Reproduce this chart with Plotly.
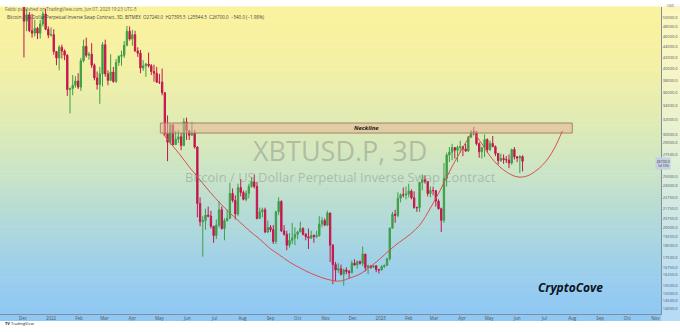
import numpy as np
import pandas as pd
import plotly.graph_objects as go

# ---------------- data ----------------
first_bar = "2021-12-02"
bar_step = "3D"

opens = [57200, 49200, 50600, 47200, 46700, 47700, 46700, 48600, 50800, 47500,
         46300, 46400, 43100, 41900, 43900, 43200, 42400, 36500, 36700, 37200,
         37900, 36900, 41400, 44100, 42400, 42600, 40600, 38400, 37300, 39100,
         44400, 39100, 38000, 39400, 37800, 41100, 42200, 42400, 44300, 47100,
         45500, 46400, 43200, 42800, 40100, 40500, 40800, 40500, 39500, 39200,
         37700, 37700, 36000, 30100, 29000, 31300, 28700, 29400, 29700, 28600,
         31700, 30500, 29900, 30200, 28400, 22200, 20500, 20600, 21100, 21000,
         20100, 19300, 20200, 21600, 19900, 20600, 20800, 23200, 22500, 21200,
         23800, 23300, 22600, 23200, 23900, 24400, 23900, 20800, 21400, 21600,
         19600, 20000, 19800, 18800, 21400, 22400, 19700, 19400, 18500, 18900,
         19100, 19400, 19600, 19900, 19400, 19200, 19100, 19300, 19200, 19300,
         20300, 20600, 20200, 21300, 18500, 17000, 16600, 16700, 16300, 16600,
         16500, 16400, 17100, 16970, 17220, 17090, 17800, 16780, 16900, 16800,
         16910, 16630, 16610, 16850, 16940, 17440, 19930, 21180, 21070, 22710,
         23060, 23030, 23130, 23430, 22760, 21800, 21790, 24330, 24630, 24440,
         23180, 23490, 23480, 22430, 21700, 20630, 24750, 27420, 27770, 28330,
         28000, 28350, 28450, 28170, 27920, 29650, 30400, 30320, 28820, 27820,
         28310, 29340, 28080, 28850, 28450, 27620, 26780, 27030, 26890, 26850,
         26480, 28090, 27220, 27070, 27240]

highs = [57300, 51900, 51200, 50800, 49500, 48000, 49500, 51400, 52000, 48100,
         47900, 47500, 43200, 44300, 44400, 43500, 42600, 36800, 38900, 38700,
         39200, 41900, 45400, 45800, 43000, 44700, 40900, 39500, 40300, 44900,
         45400, 39700, 42600, 40300, 41700, 42400, 43300, 45100, 48200, 48100,
         47400, 47200, 43900, 43400, 41500, 41000, 42900, 40800, 40700, 40300,
         39100, 40000, 36100, 32600, 31400, 31300, 30500, 30600, 30200, 32200,
         32300, 30600, 31700, 30600, 28500, 22800, 21000, 21700, 21900, 21500,
         20100, 20700, 22400, 21900, 20800, 21600, 24300, 23700, 23000, 24200,
         24700, 23500, 23500, 24200, 24900, 25200, 24400, 21800, 21800, 21800,
         20600, 20200, 20200, 21500, 22800, 22500, 20200, 19700, 19500, 20400,
         20000, 19700, 20500, 20000, 19500, 19900, 19700, 19400, 19700, 21000,
         20900, 20800, 21500, 21300, 18600, 17200, 17100, 17000, 16700, 16800,
         16600, 17300, 17400, 17300, 17300, 18400, 17800, 17000, 16950, 16950,
         16950, 16650, 16950, 17000, 17500, 20000, 21400, 21600, 23300, 23200,
         23800, 23900, 24200, 23600, 23400, 21900, 24400, 25200, 25100, 24400,
         23900, 23900, 23500, 22600, 21800, 26500, 27700, 28400, 28800, 28400,
         28600, 29200, 28500, 28800, 29800, 30600, 31000, 30500, 29000, 28400,
         30000, 29500, 29200, 29800, 28600, 27600, 27600, 27500, 27300, 27500,
         28200, 28400, 27300, 27400, 27395.5]

lows = [42000, 47100, 46900, 45800, 46000, 45500, 45600, 48100, 47300, 45700,
        46000, 42500, 40600, 39700, 41800, 41500, 35500, 32900, 35600, 36800,
        36600, 36300, 41100, 42000, 41600, 40100, 38000, 36500, 34300, 37000,
        38600, 37200, 37900, 37600, 37600, 40500, 40500, 41900, 44100, 45200,
        44200, 43100, 42100, 39200, 39600, 38600, 40200, 38900, 37800, 37600,
        37400, 35600, 29800, 26700, 28700, 28600, 28700, 28900, 28000, 28500,
        29300, 29300, 29900, 28200, 20900, 20100, 17600, 19800, 20900, 19900,
        18700, 19000, 20000, 19800, 18900, 20500, 20800, 22300, 20700, 21000,
        22900, 22500, 22400, 22700, 23800, 23700, 20700, 20750, 20900, 19500,
        19500, 19600, 18600, 18600, 21100, 19600, 19300, 18100, 18300, 18600,
        18500, 19000, 19600, 19300, 18900, 18200, 19000, 18700, 19100, 19200,
        20000, 20100, 20100, 17200, 15600, 15800, 16400, 16200, 15500, 16300,
        16000, 16400, 16900, 16700, 17000, 16900, 16500, 16300, 16700, 16750,
        16450, 16350, 16550, 16750, 16900, 17300, 19900, 20400, 20900, 22300,
        22800, 22600, 22800, 22600, 21700, 21400, 21400, 23500, 24200, 22900,
        22800, 23000, 21900, 21600, 19600, 20400, 23900, 26600, 26800, 27000,
        26600, 27700, 27300, 27800, 27800, 29600, 29900, 28600, 27100, 27000,
        27200, 27700, 27900, 28400, 27300, 26300, 26600, 26400, 26500, 25900,
        26300, 26900, 26600, 25350, 25544.5]

closes = [49200, 50600, 47200, 46700, 47700, 46700, 48600, 50800, 47500, 46300,
          46400, 43100, 41900, 43900, 43200, 42400, 36500, 36700, 37200, 37900,
          36900, 41400, 44100, 42400, 42600, 40600, 38400, 37300, 39100, 44400,
          39100, 38000, 39400, 37800, 41100, 42200, 42400, 44300, 47100, 45500,
          46400, 43200, 42800, 40100, 40500, 40800, 40500, 39500, 39200, 37700,
          37700, 36000, 30100, 29000, 31300, 28700, 29400, 29700, 28600, 31700,
          30500, 29900, 30200, 28400, 22200, 20500, 20600, 21100, 21000, 20100,
          19300, 20200, 21600, 19900, 20600, 20800, 23200, 22500, 21200, 23800,
          23300, 22600, 23200, 23900, 24400, 23900, 20800, 21400, 21600, 19600,
          20000, 19800, 18800, 21400, 22400, 19700, 19400, 18500, 18900, 19100,
          19400, 19600, 19900, 19400, 19200, 19100, 19300, 19200, 19300, 20300,
          20600, 20200, 21300, 18500, 17000, 16600, 16700, 16300, 16600, 16500,
          16400, 17100, 16970, 17220, 17090, 17800, 16780, 16900, 16800, 16910,
          16630, 16610, 16850, 16940, 17440, 19930, 21180, 21070, 22710, 23060,
          23030, 23130, 23430, 22760, 21800, 21790, 24330, 24630, 24440, 23180,
          23490, 23480, 22430, 21700, 20630, 24750, 27420, 27770, 28330, 28000,
          28350, 28450, 28170, 27920, 29650, 30400, 30320, 28820, 27820, 28310,
          29340, 28080, 28850, 28450, 27620, 26780, 27030, 26890, 26850, 26480,
          28090, 27220, 27070, 27240, 26700]

big_curve_dates = ["2022-05-05", "2022-05-15", "2022-05-24", "2022-06-04", "2022-06-15",
                   "2022-06-26", "2022-07-07", "2022-07-18", "2022-07-29", "2022-08-09",
                   "2022-08-20", "2022-08-31", "2022-09-11", "2022-09-22", "2022-10-04",
                   "2022-10-15", "2022-10-26", "2022-11-06", "2022-11-17", "2022-11-28",
                   "2022-12-09", "2022-12-20", "2022-12-31", "2023-01-11", "2023-01-22",
                   "2023-02-03", "2023-02-14", "2023-02-25", "2023-03-08", "2023-03-19",
                   "2023-03-30", "2023-04-10"]
big_curve_prices = [30070, 28650, 27430, 25910, 24590, 23330, 22240, 21290, 20470, 19680,
                    19000, 18270, 17720, 17190, 16740, 16380, 16100, 15890, 15820, 16030,
                    16310, 16820, 17420, 18120, 18760, 19430, 20290, 21760, 23540, 25690,
                    27790, 29930]

small_curve_dates = ["2023-04-16", "2023-04-24", "2023-05-02", "2023-05-13", "2023-05-24",
                     "2023-06-02", "2023-06-12", "2023-06-23", "2023-07-04", "2023-07-13",
                     "2023-07-21"]
small_curve_prices = [29930, 28650, 27310, 26030, 25250, 24920, 25030, 25690, 26830, 28400, 30460]

neckline_dates = ["2022-05-02", "2023-08-01"]
neckline_prices = [30190, 31540]
neckline_label = "Neckline"

price_ticks = [50000, 48000, 46000, 44000, 42000, 40000, 38000, 36000, 34000, 32000,
               30000, 29000, 27500, 25000, 24000, 22750, 21750, 20750, 20000, 19250,
               18500, 17500, 16750, 16250, 15500, 15000, 14500, 14000]
month_ticks = ["2021-12-01", "2022-01-01", "2022-02-01", "2022-03-01", "2022-04-01",
               "2022-05-01", "2022-06-01", "2022-07-01", "2022-08-01", "2022-09-01",
               "2022-10-01", "2022-11-01", "2022-12-01", "2023-01-01", "2023-02-01",
               "2023-03-01", "2023-04-01", "2023-05-01", "2023-06-01", "2023-07-01",
               "2023-08-01", "2023-09-01", "2023-10-01", "2023-11-01"]
month_labels = ["Dec", "2022", "Feb", "Mar", "Apr", "May", "Jun", "Jul", "Aug", "Sep",
                "Oct", "Nov", "Dec", "2023", "Feb", "Mar", "Apr", "May", "Jun", "Jul",
                "Aug", "Sep", "Oct", "Nov"]
last_price = 26700.0

header_top = "Fabbi published on TradingView.com, Jun 07, 2023 19:23 UTC-5"
header_symbol = ("Bitcoin / US Dollar Perpetual Inverse Swap Contract, 3D, BITMEX  "
                 "O27240.0  H27395.5  L25544.5  C26700.0  −540.0 (−1.98%)")
wm_title = "XBTUSD.P, 3D"
wm_sub = "Bitcoin / US Dollar Perpetual Inverse Swap Contract"
author = "CryptoCove"

# ---------------- layout geometry ----------------
W, H = 680, 332
PLOT_TOP, PLOT_BOTTOM, PLOT_RIGHT = 7, 314, 661
plot_h = PLOT_BOTTOM - PLOT_TOP


def py(pix):
    return (PLOT_BOTTOM - pix) / plot_h


def px(pix):
    return pix / PLOT_RIGHT


UP = "#3f9e47"
DOWN = "#c3174b"
CURVE = "#d9504a"

dates = pd.date_range(first_bar, periods=len(closes), freq=bar_step)

fig = go.Figure()

# background gradient (yellow -> green -> blue)
stops = [(1.0, (251, 242, 156)), (0.80, (243, 240, 166)), (0.62, (223, 235, 180)),
         (0.48, (205, 229, 196)), (0.30, (178, 218, 218)), (0.14, (156, 207, 236)),
         (0.0, (143, 200, 243)), (-0.03, (143, 200, 243))]
shapes = []
n = 80
y_lo, y_hi = py(321), 1.0
for i in range(n):
    a = y_lo + (y_hi - y_lo) * i / n
    b = y_lo + (y_hi - y_lo) * (i + 1) / n
    m = (a + b) / 2
    for j in range(len(stops) - 1):
        (p1, c1), (p2, c2) = stops[j], stops[j + 1]
        if p2 <= m <= p1:
            t = (p1 - m) / (p1 - p2)
            col = tuple(int(round(c1[k] + (c2[k] - c1[k]) * t)) for k in range(3))
            break
    shapes.append(dict(type="rect", xref="paper", yref="paper", x0=0, x1=W / PLOT_RIGHT,
                       y0=a, y1=b + 0.002, fillcolor="rgb(%d,%d,%d)" % col,
                       line=dict(width=0), layer="below"))
# price scale strip (slightly paler)
shapes.append(dict(type="rect", xref="paper", yref="paper", x0=1.0, x1=W / PLOT_RIGHT,
                   y0=py(321), y1=1.0, fillcolor="rgba(255,255,255,0.35)",
                   line=dict(width=0), layer="below"))

# neckline zone (filled polygon trace, drawn under the candles)
band_x = [neckline_dates[0], neckline_dates[1], neckline_dates[1], neckline_dates[0], neckline_dates[0]]
band_y = [neckline_prices[0], neckline_prices[0], neckline_prices[1], neckline_prices[1], neckline_prices[0]]
fig.add_trace(go.Scatter(x=band_x, y=band_y, mode="lines", fill="toself",
                         fillcolor="rgba(230,180,150,0.55)", line=dict(color="#a5846a", width=1),
                         showlegend=False, hoverinfo="skip"))

fig.add_trace(go.Candlestick(
    x=dates, open=opens, high=highs, low=lows, close=closes,
    increasing=dict(line=dict(color=UP, width=1), fillcolor=UP),
    decreasing=dict(line=dict(color=DOWN, width=1), fillcolor=DOWN),
    whiskerwidth=0, showlegend=False, hoverinfo="skip"))

fig.add_trace(go.Scatter(x=big_curve_dates, y=big_curve_prices, mode="lines",
                         line=dict(color=CURVE, width=1, shape="spline"),
                         showlegend=False, hoverinfo="skip"))
fig.add_trace(go.Scatter(x=small_curve_dates, y=small_curve_prices, mode="lines",
                         line=dict(color=CURVE, width=1, shape="spline"),
                         showlegend=False, hoverinfo="skip"))

mid_date = pd.Timestamp(neckline_dates[0]) + (pd.Timestamp(neckline_dates[1]) - pd.Timestamp(neckline_dates[0])) / 2
annotations = [
    dict(text=neckline_label, x=mid_date, xref="x", y=np.log10(np.sqrt(neckline_prices[0] * neckline_prices[1])),
         yref="y", showarrow=False, font=dict(size=6, color="#1a1a1a", family="Open Sans",
                                              weight="bold", style="italic")),
    dict(text=wm_title, x=px(340), y=py(150), xref="paper", yref="paper", showarrow=False,
         font=dict(size=27, color="rgba(130,135,130,0.45)", family="Open Sans")),
    dict(text=wm_sub, x=px(340), y=py(177), xref="paper", yref="paper", showarrow=False,
         font=dict(size=13, color="rgba(130,135,130,0.45)", family="Open Sans")),
    dict(text=author, x=px(605), y=py(298), xref="paper", yref="paper", showarrow=False,
         font=dict(size=12, color="#0d1420", family="Open Sans", weight="bold", style="italic")),
    dict(text=header_top, x=px(3), y=py(3.5), xref="paper", yref="paper", showarrow=False,
         xanchor="left", font=dict(size=4.5, color="#666666", family="Open Sans")),
    dict(text=header_symbol, x=px(5), y=py(11.5), xref="paper", yref="paper", showarrow=False,
         xanchor="left", font=dict(size=4.5, color="#444444", family="Open Sans")),
    dict(text="USD", x=px(665), y=py(10), xref="paper", yref="paper", showarrow=False,
         xanchor="left", yanchor="bottom", font=dict(size=3.5, color="#555555", family="Open Sans")),
    dict(text="%.1f<br>1d 10h" % last_price, x=px(671), y=np.log10(last_price) - 0.004, xref="paper", yref="y",
         showarrow=False, bgcolor="#c6d0e4", borderpad=0.5,
         font=dict(size=3.6, color="#333333", family="Open Sans")),
    dict(text="<b>TV</b> TradingView", x=px(3), y=py(327.5), xref="paper", yref="paper",
         showarrow=False, xanchor="left", font=dict(size=4, color="#222222", family="Open Sans")),
]

fig.update_layout(
    width=W, height=H,
    margin=dict(l=0, r=W - PLOT_RIGHT, t=PLOT_TOP, b=H - PLOT_BOTTOM, pad=0),
    paper_bgcolor="white", plot_bgcolor="rgba(0,0,0,0)",
    shapes=shapes, annotations=annotations, showlegend=False,
    xaxis=dict(type="date", range=["2021-11-05 12:00", "2023-11-07 07:00"],
               showgrid=False, zeroline=False, showline=True, linecolor="#7f8fa0", linewidth=1,
               tickmode="array", tickvals=month_ticks, ticktext=month_labels, ticks="",
               tickfont=dict(size=4.5, color="#4a5563", family="Open Sans"),
               rangeslider=dict(visible=False), automargin=False),
    yaxis=dict(type="log", range=[np.log10(13700), np.log10(52350)], side="right",
               showgrid=False, zeroline=False, showline=True, linecolor="#7f8fa0", linewidth=1,
               tickmode="array", tickvals=price_ticks, ticktext=["%.1f" % v for v in price_ticks],
               ticks="", tickfont=dict(size=4, color="#4a5563", family="Open Sans"),
               automargin=False),
)

fig.write_html("out.html")
